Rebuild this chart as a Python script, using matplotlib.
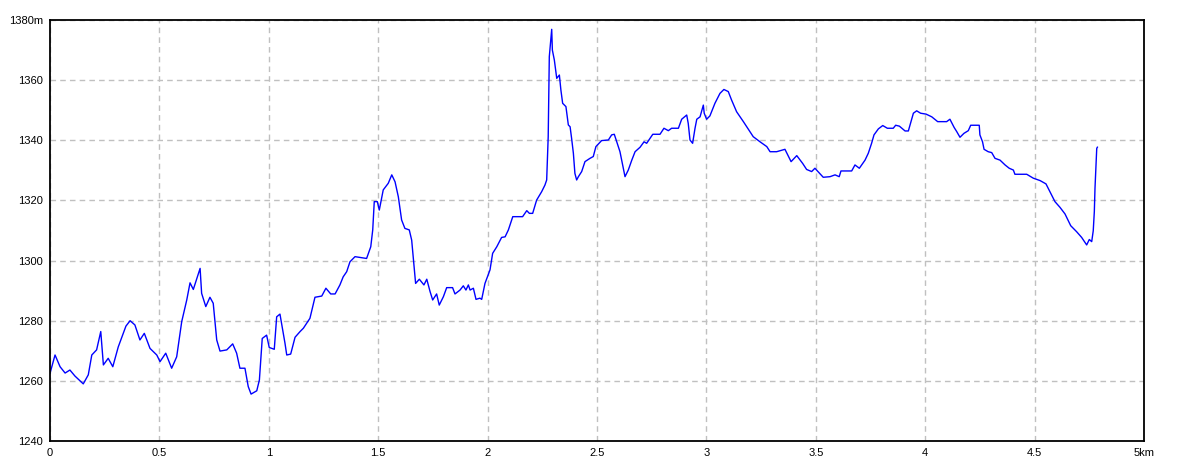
import matplotlib
matplotlib.use("Agg")
import matplotlib.pyplot as plt

dist_km = [0.000, 0.023, 0.046, 0.069, 0.091, 0.114, 0.152, 0.175, 0.191, 0.213,
           0.232, 0.244, 0.266, 0.287, 0.312, 0.347, 0.366, 0.388, 0.396, 0.411,
           0.431, 0.457, 0.488, 0.503, 0.529, 0.556, 0.579, 0.602, 0.625, 0.640,
           0.655, 0.686, 0.693, 0.712, 0.731, 0.746, 0.762, 0.777, 0.808, 0.835,
           0.853, 0.868, 0.891, 0.906, 0.919, 0.945, 0.957, 0.970, 0.990, 1.002,
           1.025, 1.036, 1.051, 1.074, 1.082, 1.100, 1.120, 1.143, 1.158, 1.188,
           1.211, 1.242, 1.261, 1.283, 1.303, 1.325, 1.340, 1.356, 1.371, 1.394,
           1.447, 1.466, 1.475, 1.482, 1.496, 1.505, 1.523, 1.546, 1.562, 1.577,
           1.592, 1.607, 1.622, 1.642, 1.653, 1.660, 1.671, 1.688, 1.709, 1.722,
           1.737, 1.749, 1.767, 1.779, 1.798, 1.813, 1.840, 1.851, 1.874, 1.889,
           1.901, 1.912, 1.920, 1.935, 1.947, 1.965, 1.973, 1.988, 2.011, 2.023,
           2.042, 2.064, 2.080, 2.095, 2.115, 2.160, 2.179, 2.191, 2.206, 2.224,
           2.247, 2.262, 2.270, 2.277, 2.282, 2.293, 2.296, 2.305, 2.316, 2.328,
           2.335, 2.343, 2.358, 2.369, 2.377, 2.384, 2.392, 2.399, 2.407, 2.415,
           2.430, 2.445, 2.468, 2.483, 2.495, 2.521, 2.552, 2.567, 2.579, 2.590,
           2.605, 2.617, 2.628, 2.643, 2.659, 2.674, 2.697, 2.715, 2.727, 2.755,
           2.788, 2.806, 2.826, 2.841, 2.872, 2.887, 2.910, 2.917, 2.925, 2.937,
           2.948, 2.956, 2.971, 2.986, 2.990, 3.001, 3.016, 3.039, 3.062, 3.080,
           3.100, 3.115, 3.138, 3.169, 3.214, 3.245, 3.276, 3.291, 3.321, 3.359,
           3.387, 3.413, 3.440, 3.458, 3.481, 3.496, 3.534, 3.565, 3.588, 3.607,
           3.615, 3.664, 3.679, 3.699, 3.725, 3.740, 3.755, 3.766, 3.786, 3.806,
           3.827, 3.854, 3.865, 3.882, 3.908, 3.923, 3.935, 3.946, 3.961, 3.979,
           4.004, 4.030, 4.057, 4.098, 4.113, 4.132, 4.144, 4.159, 4.177, 4.197,
           4.208, 4.247, 4.250, 4.262, 4.269, 4.288, 4.304, 4.319, 4.342, 4.365,
           4.384, 4.403, 4.410, 4.464, 4.494, 4.525, 4.552, 4.570, 4.593, 4.616,
           4.639, 4.665, 4.692, 4.715, 4.738, 4.750, 4.761, 4.768, 4.773, 4.776,
           4.781, 4.784, 4.787]
alt_m = [1262.5, 1268.6, 1264.7, 1262.6, 1263.6, 1261.6, 1259.0, 1262.0, 1268.6, 1270.3,
         1276.4, 1265.3, 1267.5, 1264.7, 1271.3, 1278.2, 1280.0, 1278.6, 1276.9, 1273.6,
         1275.8, 1270.8, 1268.6, 1266.4, 1269.2, 1264.2, 1268.0, 1279.7, 1286.9, 1292.6,
         1290.4, 1297.4, 1289.1, 1284.7, 1287.8, 1285.8, 1273.6, 1269.9, 1270.3, 1272.3,
         1269.2, 1264.2, 1264.2, 1258.1, 1255.6, 1256.7, 1260.3, 1274.1, 1275.2, 1271.1,
         1270.5, 1281.3, 1282.2, 1272.5, 1268.6, 1268.9, 1274.5, 1276.4, 1277.5, 1280.8,
         1287.8, 1288.2, 1290.8, 1288.9, 1288.9, 1291.9, 1294.6, 1296.3, 1299.6, 1301.3,
         1300.7, 1304.6, 1310.2, 1319.6, 1319.6, 1316.8, 1323.5, 1325.7, 1328.5, 1326.2,
         1321.2, 1313.5, 1310.7, 1310.2, 1306.8, 1301.3, 1292.4, 1293.8, 1291.9, 1293.8,
         1289.7, 1286.9, 1288.9, 1285.2, 1288.0, 1291.0, 1291.0, 1288.9, 1290.2, 1291.6,
         1290.2, 1291.9, 1290.2, 1290.8, 1287.1, 1287.5, 1287.1, 1292.4, 1296.9, 1302.4,
         1304.6, 1307.7, 1307.9, 1310.2, 1314.6, 1314.6, 1316.6, 1315.7, 1315.7, 1320.1,
         1322.9, 1325.1, 1326.8, 1341.2, 1367.8, 1376.9, 1370.0, 1366.7, 1360.6, 1361.7,
         1356.7, 1352.3, 1351.2, 1345.1, 1344.5, 1340.6, 1335.7, 1329.0, 1326.8, 1327.9,
         1329.6, 1332.9, 1334.0, 1334.6, 1337.9, 1339.9, 1340.1, 1341.8, 1342.0, 1339.5,
         1336.2, 1331.8, 1327.9, 1330.1, 1333.4, 1336.2, 1337.7, 1339.5, 1339.0, 1342.0,
         1342.0, 1344.0, 1343.2, 1344.0, 1344.0, 1347.0, 1348.4, 1345.6, 1340.1, 1339.0,
         1344.0, 1347.0, 1347.8, 1351.7, 1349.0, 1347.0, 1348.1, 1352.3, 1355.6, 1356.9,
         1356.2, 1353.4, 1349.5, 1346.2, 1341.2, 1339.5, 1337.9, 1336.2, 1336.2, 1337.0,
         1332.9, 1334.9, 1332.3, 1330.3, 1329.6, 1330.7, 1327.7, 1327.9, 1328.5, 1327.9,
         1329.8, 1329.8, 1331.8, 1330.7, 1333.4, 1335.7, 1339.0, 1341.8, 1343.8, 1344.9,
         1344.0, 1344.0, 1345.0, 1344.7, 1343.1, 1343.1, 1346.2, 1349.0, 1349.8, 1349.0,
         1348.7, 1347.8, 1346.2, 1346.2, 1347.0, 1344.3, 1342.9, 1341.0, 1342.3, 1343.2,
         1345.0, 1345.0, 1341.8, 1339.5, 1337.0, 1336.2, 1335.9, 1334.0, 1333.4, 1331.8,
         1330.7, 1330.1, 1328.7, 1328.7, 1327.4, 1326.6, 1325.5, 1322.9, 1319.6, 1317.7,
         1315.5, 1311.6, 1309.6, 1307.7, 1305.2, 1307.0, 1306.3, 1309.9, 1316.3, 1324.0,
         1332.1, 1337.3, 1337.7]

xticks = [0, 0.5, 1, 1.5, 2, 2.5, 3, 3.5, 4, 4.5, 5]
xlabels = ['0', '0.5', '1', '1.5', '2', '2.5', '3', '3.5', '4', '4.5', '5km']
yticks = [1240, 1260, 1280, 1300, 1320, 1340, 1360, 1380]
ylabels = ['1240', '1260', '1280', '1300', '1320', '1340', '1360', '1380m']

plt.rcParams['font.family'] = ['Liberation Sans', 'DejaVu Sans']

fig = plt.figure(figsize=(11.84, 4.73), dpi=100)
ax = fig.add_axes([50/1184, 32/473, 1094/1184, 421/473])

#perfil
ax.plot(dist_km, alt_m, color='#0000ff', linewidth=1)

ax.set_xlim(0, 5)
ax.set_ylim(1240, 1380)
ax.set_xticks(xticks)
ax.set_xticklabels(xlabels)
ax.set_yticks(yticks)
ax.set_yticklabels(ylabels)
ax.tick_params(length=0, labelsize=8, pad=5)

ax.grid(True, color='#c0c0c0', linestyle=(0, (4, 3)), linewidth=1)
for s in ax.spines.values():
    s.set_color('black')
    s.set_linewidth(1.3)

fig.savefig('out.png', dpi=100)
